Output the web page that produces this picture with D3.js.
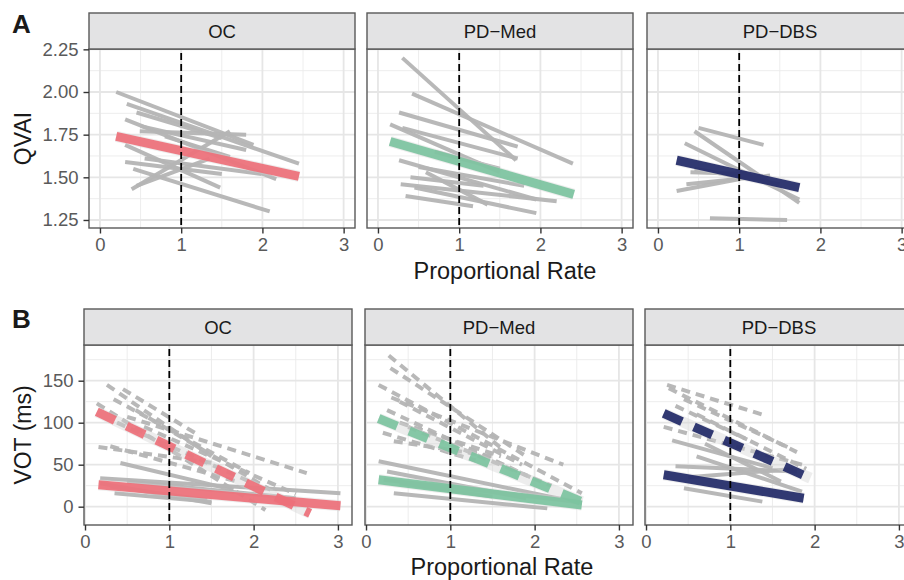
<!DOCTYPE html>
<html>
<head>
<meta charset="utf-8">
<script src="https://cdn.jsdelivr.net/npm/d3@7"></script>
<style>
  body { margin: 0; background: #fff; overflow: hidden; }
  text { font-family: "Liberation Sans", Arial, Helvetica, sans-serif; }
</style>
</head>
<body>
<div id="chart"></div>
<script>
// facets and ticks
const facets = ["OC", "PD\u2212Med", "PD\u2212DBS"];
const xTicks = [0, 1, 2, 3];
const qvaiTicks = [1.25, 1.5, 1.75, 2, 2.25];
const votTicks = [0, 50, 100, 150];

// per-speaker fits, [x start, y start, x end, y end]
const qvaiOC = [
  [0.20, 2.00, 1.89, 1.69],
  [0.33, 1.93, 2.45, 1.58],
  [0.31, 1.84, 2.17, 1.49],
  [0.45, 1.88, 1.50, 1.73],
  [0.50, 1.80, 1.80, 1.66],
  [0.49, 1.77, 1.80, 1.75],
  [0.31, 1.69, 1.48, 1.44],
  [0.31, 1.59, 1.50, 1.52],
  [0.39, 1.43, 1.60, 1.77],
  [0.41, 1.55, 2.09, 1.30],
  [0.45, 1.45, 1.35, 1.61],
  [0.55, 1.61, 1.99, 1.52],
  [0.80, 1.74, 1.60, 1.62]
];
const qvaiMed = [
  [0.30, 2.20, 1.70, 1.60],
  [0.42, 1.99, 2.40, 1.58],
  [0.26, 1.88, 1.72, 1.68],
  [0.15, 1.81, 1.50, 1.53],
  [0.30, 1.79, 1.72, 1.61],
  [0.26, 1.60, 1.95, 1.37],
  [0.28, 1.46, 2.20, 1.36],
  [0.34, 1.39, 1.17, 1.33],
  [0.59, 1.53, 1.35, 1.34],
  [0.45, 1.44, 1.95, 1.29],
  [0.70, 1.65, 1.50, 1.55],
  [0.50, 1.56, 1.80, 1.45],
  [0.40, 1.50, 1.30, 1.45]
];
const qvaiDBS = [
  [0.50, 1.79, 1.30, 1.69],
  [0.45, 1.77, 1.74, 1.35],
  [0.33, 1.70, 1.74, 1.37],
  [0.23, 1.42, 1.01, 1.49],
  [0.35, 1.46, 1.38, 1.51],
  [0.40, 1.53, 1.10, 1.52],
  [0.64, 1.26, 1.59, 1.25],
  [0.45, 1.55, 1.50, 1.46]
];
// group fits, one per facet
const qvaiFit = [
  [0.20, 1.74, 2.45, 1.505],
  [0.15, 1.71, 2.41, 1.40],
  [0.23, 1.60, 1.74, 1.44]
];

const votSolidOC = [
  [0.18, 34, 3.03, 16],
  [0.42, 52, 1.76, 20],
  [0.18, 28, 1.50, 4],
  [0.30, 24, 1.45, 8],
  [0.35, 16, 1.50, 6],
  [0.50, 30, 2.50, 10]
];
const votDashedOC = [
  [0.26, 145, 1.50, 60],
  [0.14, 123, 2.14, -4],
  [0.34, 128, 1.95, 40],
  [0.16, 71, 1.52, 52],
  [0.50, 107, 2.63, 40],
  [0.38, 100, 1.95, 30],
  [0.45, 140, 1.35, 85],
  [0.60, 115, 2.20, 20],
  [0.30, 72, 1.80, 30],
  [0.70, 95, 2.50, 15]
];
const votSolidMed = [
  [0.15, 54, 2.56, 4],
  [0.25, 42, 1.90, 10],
  [0.33, 16, 2.15, -2],
  [0.21, 32, 2.50, 6],
  [0.40, 28, 1.50, 12]
];
const votDashedMed = [
  [0.27, 180, 1.60, 70],
  [0.29, 165, 1.90, 60],
  [0.15, 145, 2.56, 16],
  [0.30, 130, 2.34, 50],
  [0.40, 125, 1.85, 50],
  [0.25, 115, 1.95, 35],
  [0.40, 100, 1.60, 60],
  [0.33, 78, 1.50, 60],
  [0.50, 95, 2.20, 25],
  [0.20, 88, 1.30, 55]
];
const votSolidDBS = [
  [0.31, 79, 1.50, 46],
  [0.35, 48, 1.79, 42],
  [0.45, 22, 1.38, 6],
  [0.60, 60, 1.85, 18],
  [0.50, 35, 1.75, 45],
  [0.70, 75, 1.60, 30]
];
const votDashedDBS = [
  [0.25, 145, 1.40, 109],
  [0.27, 141, 1.79, 65],
  [0.21, 95, 1.85, 50],
  [0.45, 128, 1.70, 70],
  [0.60, 110, 1.90, 45],
  [0.35, 120, 1.20, 80]
];
const votFitSolid = [
  [0.16, 26, 3.03, 1],
  [0.15, 32, 2.56, 2],
  [0.21, 38, 1.87, 10]
];
const votFitDashed = [
  [0.14, 113, 2.67, -8],
  [0.15, 105, 2.56, 6],
  [0.21, 111, 1.95, 34]
];

const fitColors = ["#ee707a", "#7dc4a0", "#222a68"];

const rows = [
  {
    tag: "A", tagY: 33, stripTop: 13, top: 49, bottom: 228,
    lefts: [89, 367, 647], width: 266,
    xDomain: [-0.135, 3.14], yDomain: [1.203, 2.252],
    yTicks: qvaiTicks, yMinor: [1.375, 1.625, 1.875, 2.125], fmt: d3.format(".2f"),
    yTitle: "QVAI", titleX: 505, titleY: 279,
    solid: [qvaiOC, qvaiMed, qvaiDBS], dashed: [[], [], []],
    fitSolid: qvaiFit, fitDashed: []
  },
  {
    tag: "B", tagY: 328, stripTop: 309, top: 345, bottom: 525,
    lefts: [84, 365, 645], width: 268,
    xDomain: [-0.012, 3.167], yDomain: [-21.8, 192.5],
    yTicks: votTicks, yMinor: [25, 75, 125, 175], fmt: d3.format("d"),
    yTitle: "VOT (ms)", titleX: 502, titleY: 575,
    solid: [votSolidOC, votSolidMed, votSolidDBS],
    dashed: [votDashedOC, votDashedMed, votDashedDBS],
    fitSolid: votFitSolid, fitDashed: votFitDashed
  }
];

const W = 904, H = 580;
const svg = d3.select("#chart").append("svg")
  .attr("width", W).attr("height", H);

const gray = "#b5b5b5";
const tickFont = "18.5px";

rows.forEach(function(row, r) {
  // panel tag
  svg.append("text")
    .attr("x", 12).attr("y", row.tagY)
    .style("font-size", "26px").style("font-weight", "bold")
    .attr("fill", "#1a1a1a")
    .text(row.tag);

  // y title
  svg.append("text")
    .attr("transform", "translate(31," + ((row.top + row.bottom) / 2) + ") rotate(-90)")
    .attr("text-anchor", "middle")
    .style("font-size", "23px").attr("fill", "#1a1a1a")
    .text(row.yTitle);

  // x title
  svg.append("text")
    .attr("x", row.titleX).attr("y", row.titleY)
    .attr("text-anchor", "middle")
    .style("font-size", "23.5px").attr("fill", "#1a1a1a")
    .text("Proportional Rate");

  const y = d3.scaleLinear().domain(row.yDomain).range([row.bottom, row.top]);

  facets.forEach(function(f, i) {
    const left = row.lefts[i], right = left + row.width;
    const x = d3.scaleLinear().domain(row.xDomain).range([left, right]);
    const g = svg.append("g");
    const clipId = "clip" + r + i;
    svg.append("clipPath").attr("id", clipId)
      .append("rect").attr("x", left).attr("y", row.top)
      .attr("width", row.width).attr("height", row.bottom - row.top);

    g.append("rect").attr("x", left).attr("y", row.top)
      .attr("width", row.width).attr("height", row.bottom - row.top)
      .attr("fill", "#fff");

    // grid
    const grid = g.append("g");
    grid.selectAll(".xmin").data([0.5, 1.5, 2.5]).enter().append("line")
      .attr("x1", d => x(d)).attr("x2", d => x(d))
      .attr("y1", row.top).attr("y2", row.bottom)
      .attr("stroke", "#ebebeb").attr("stroke-width", 0.9);
    grid.selectAll(".ymin").data(row.yMinor).enter().append("line")
      .attr("x1", left).attr("x2", right)
      .attr("y1", d => y(d)).attr("y2", d => y(d))
      .attr("stroke", "#ebebeb").attr("stroke-width", 0.9);
    grid.selectAll(".xmaj").data(xTicks).enter().append("line")
      .attr("x1", d => x(d)).attr("x2", d => x(d))
      .attr("y1", row.top).attr("y2", row.bottom)
      .attr("stroke", "#e6e6e6").attr("stroke-width", 1.8);
    grid.selectAll(".ymaj").data(row.yTicks).enter().append("line")
      .attr("x1", left).attr("x2", right)
      .attr("y1", d => y(d)).attr("y2", d => y(d))
      .attr("stroke", "#e6e6e6").attr("stroke-width", 1.8);

    const marks = g.append("g").attr("clip-path", "url(#" + clipId + ")");

    function seg(sel, data) {
      return sel.selectAll(null).data(data).enter().append("line")
        .attr("x1", d => x(d[0])).attr("y1", d => y(d[1]))
        .attr("x2", d => x(d[2])).attr("y2", d => y(d[3]));
    }

    seg(marks, row.solid[i]).attr("stroke", gray).attr("stroke-width", 4).attr("opacity", 0.95);
    seg(marks, row.dashed[i]).attr("stroke", gray).attr("stroke-width", 4)
      .attr("stroke-dasharray", "9,6").attr("opacity", 0.95);

    const fits = [row.fitSolid[i]];
    if (row.fitDashed.length) fits.push(row.fitDashed[i]);
    // light band behind the group fits
    seg(marks, fits).attr("stroke", "#d4d4d4").attr("stroke-width", 11).attr("opacity", 0.4);
    seg(marks, [row.fitSolid[i]]).attr("stroke", fitColors[i]).attr("stroke-width", 9)
      .attr("opacity", 0.92);
    if (row.fitDashed.length) {
      seg(marks, [row.fitDashed[i]]).attr("stroke", fitColors[i]).attr("stroke-width", 9)
        .attr("stroke-dasharray", "20,13").attr("opacity", 0.92);
    }

    // reference line at rate 1
    marks.append("line")
      .attr("x1", x(1)).attr("x2", x(1))
      .attr("y1", row.top + 4).attr("y2", row.bottom)
      .attr("stroke", "#000").attr("stroke-width", 1.8)
      .attr("stroke-dasharray", "7,4");

    // border
    g.append("rect").attr("x", left).attr("y", row.top)
      .attr("width", row.width).attr("height", row.bottom - row.top)
      .attr("fill", "none").attr("stroke", "#595959").attr("stroke-width", 1.4);

    // strip
    g.append("rect").attr("x", left).attr("y", row.stripTop)
      .attr("width", row.width).attr("height", row.top - row.stripTop)
      .attr("fill", "#e3e3e4").attr("stroke", "#595959").attr("stroke-width", 1.4);
    g.append("text")
      .attr("x", (left + right) / 2).attr("y", (row.stripTop + row.top) / 2)
      .attr("dy", "0.36em").attr("text-anchor", "middle")
      .style("font-size", tickFont).attr("fill", "#1a1a1a")
      .text(f);

    // x axis
    const xa = g.append("g").attr("transform", "translate(0," + row.bottom + ")")
      .call(d3.axisBottom(x).tickValues(xTicks).tickFormat(d3.format("d")).tickSize(5.5).tickPadding(4));
    xa.select(".domain").remove();
    xa.selectAll("line").attr("stroke", "#333").attr("stroke-width", 1.4);
    xa.selectAll("text").style("font-size", tickFont).attr("fill", "#5a5a5a")
      .style("font-family", "'Liberation Sans', Arial, sans-serif");

    // y axis on first facet only
    if (i === 0) {
      const ya = g.append("g").attr("transform", "translate(" + left + ",0)")
        .call(d3.axisLeft(y).tickValues(row.yTicks).tickFormat(row.fmt).tickSize(5.5).tickPadding(5));
      ya.select(".domain").remove();
      ya.selectAll("line").attr("stroke", "#333").attr("stroke-width", 1.4);
      ya.selectAll("text").style("font-size", tickFont).attr("fill", "#5a5a5a")
        .style("font-family", "'Liberation Sans', Arial, sans-serif");
    }
  });
});
</script>
</body>
</html>
